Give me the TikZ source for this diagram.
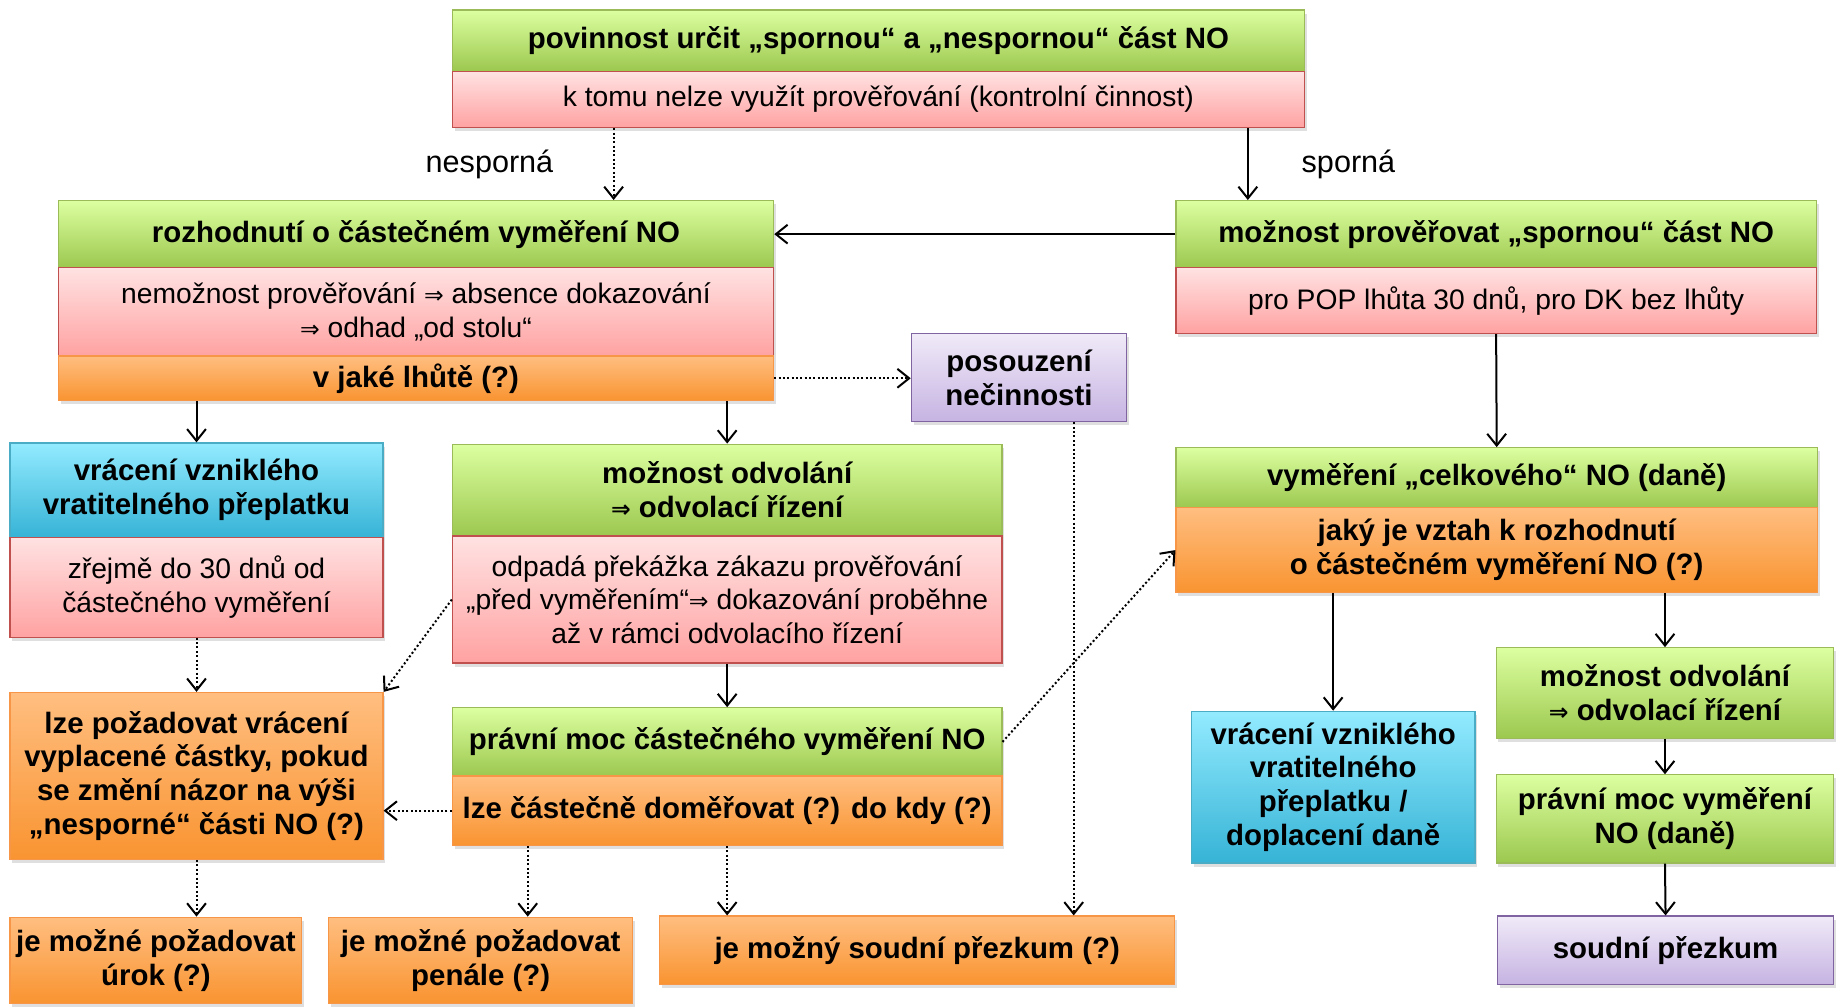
\documentclass[tikz,border=0pt]{standalone}
\usepackage{fontspec}
\setmainfont{Liberation Sans}
\newfontfamily\sipkafont{DejaVu Sans}
\newcommand{\impl}{{\sipkafont\fontsize{10}{14.3}\selectfont ⇒}}
\usetikzlibrary{arrows.meta,shadows}
\definecolor{zelenaH}{HTML}{DCFFA0}
\definecolor{zelenaD}{HTML}{9CC84F}
\definecolor{zelenaR}{HTML}{9BBB59}
\definecolor{cervenaH}{HTML}{FFE2E2}
\definecolor{cervenaD}{HTML}{FFA2A2}
\definecolor{cervenaR}{HTML}{C0504D}
\definecolor{oranzH}{HTML}{FFBE80}
\definecolor{oranzD}{HTML}{F99431}
\definecolor{oranzR}{HTML}{F79646}
\definecolor{modraH}{HTML}{93EBFF}
\definecolor{modraD}{HTML}{36B3D6}
\definecolor{modraR}{HTML}{4BACC6}
\definecolor{fialH}{HTML}{F0EAF8}
\definecolor{fialD}{HTML}{C6B3E2}
\definecolor{fialR}{HTML}{8064A2}
\begin{document}
\begin{tikzpicture}[x=0.5pt,y=-0.5pt,
 font=\fontsize{12}{14.3}\selectfont,
 box/.style={anchor=north west,inner sep=0pt,align=center,line width=0.5pt,
  drop shadow={shadow xshift=1pt,shadow yshift=-1.5pt,opacity=0.25}},
 zelena/.style={box,draw=zelenaR,top color=zelenaH,bottom color=zelenaD,font=\fontsize{12.5}{14.4}\selectfont\bfseries},
 cervena/.style={box,draw=cervenaR,top color=cervenaH,bottom color=cervenaD},
 oranz/.style={box,draw=oranzR,top color=oranzH,bottom color=oranzD,font=\fontsize{12.5}{14.4}\selectfont\bfseries},
 modra/.style={box,draw=modraR,top color=modraH,bottom color=modraD,font=\fontsize{12.5}{14.4}\selectfont\bfseries},
 fial/.style={box,draw=fialR,top color=fialH,bottom color=fialD,font=\fontsize{12.5}{14.4}\selectfont\bfseries},
 sipka/.style={line width=0.85pt,-{Straight Barb[length=5pt,width=8pt]}},
 tecky/.style={sipka,densely dotted}]
\useasboundingbox (0,0) rectangle (1568,855);
% horni blok
\node [zelena,minimum width=362pt,minimum height=26pt] (povinnost) at (384,8) {povinnost určit „spornou“ a „nespornou“ část NO};
\node [cervena,minimum width=362pt,minimum height=24pt] (kontrola) at (384,60) {k tomu nelze využít prověřování (kontrolní činnost)};
\node [font=\fontsize{13}{15}\selectfont] (nesporna) at (416,140) {nesporná};
\node [font=\fontsize{13}{15}\selectfont] (sporna) at (1146,140) {sporná};
% nesporna cast
\node [zelena,minimum width=304pt,minimum height=28.5pt] (rozhodnuti) at (49,170) {rozhodnutí o částečném vyměření NO};
\node [cervena,minimum width=304pt,minimum height=37.5pt] (nemoznost) at (49,227) {nemožnost prověřování \impl{} absence dokazování\\\impl{} odhad „od stolu“};
\node [oranz,minimum width=304pt,minimum height=19pt] (lhuta) at (49,302) {v jaké lhůtě (?)};
\node [fial,minimum width=91.5pt,minimum height=37.5pt] (necinnost) at (774,283) {posouzení\\nečinnosti};
\node [modra,minimum width=158.5pt,minimum height=40pt] (vraceni) at (8,376) {vrácení vzniklého\\vratitelného přeplatku};
\node [cervena,minimum width=158.5pt,minimum height=42.5pt] (zrejme) at (8,456) {zřejmě do 30 dnů od\\částečného vyměření};
\node [zelena,minimum width=233.5pt,minimum height=39pt] (odvolani) at (384,377) {možnost odvolání\\{\bfseries\impl} odvolací řízení};
\node [cervena,minimum width=233.5pt,minimum height=54pt] (prekazka) at (384,455) {odpadá překážka zákazu prověřování\\„před vyměřením“\impl{} dokazování proběhne\\až v rámci odvolacího řízení};
\node [zelena,minimum width=233.5pt,minimum height=29pt] (pravnimoc) at (384,601) {právní moc částečného vyměření NO};
\node [oranz,minimum width=233.5pt,minimum height=29.5pt] (domerovat) at (384,659) {lze částečně doměřovat (?) do kdy (?)};
\node [oranz,minimum width=158.5pt,minimum height=71pt] (vyplacena) at (8,588) {lze požadovat vrácení\\vyplacené částky, pokud\\se změní názor na výši\\„nesporné“ části NO (?)};
\node [oranz,minimum width=124pt,minimum height=36.5pt] (urok) at (8,779) {je možné požadovat\\úrok (?)};
\node [oranz,minimum width=129pt,minimum height=36.5pt] (penale) at (279,779) {je možné požadovat\\penále (?)};
\node [oranz,minimum width=219pt,minimum height=29pt] (prezkum) at (560,778) {je možný soudní přezkum (?)};
% sporna cast
\node [zelena,minimum width=272pt,minimum height=28.5pt] (proverovat) at (999,170) {možnost prověřovat „spornou“ část NO};
\node [cervena,minimum width=272pt,minimum height=28pt] (popdk) at (999,227) {pro POP lhůta 30 dnů, pro DK bez lhůty};
\node [zelena,minimum width=272.5pt,minimum height=25.5pt] (celkove) at (999,380) {vyměření „celkového“ NO (daně)};
\node [oranz,minimum width=272.5pt,minimum height=36pt] (vztah) at (999,431) {jaký je vztah k rozhodnutí\\o částečném vyměření NO (?)};
\node [modra,minimum width=120.5pt,minimum height=64.5pt] (doplaceni) at (1012,604) {vrácení vzniklého\\vratitelného\\přeplatku /\\doplacení daně};
\node [zelena,minimum width=143.5pt,minimum height=38.5pt] (odvolaniB) at (1271,550) {možnost odvolání\\{\bfseries\impl} odvolací řízení};
\node [zelena,minimum width=143.5pt,minimum height=37.5pt] (pravnimocB) at (1271,658) {právní moc vyměření\\NO (daně)};
\node [fial,minimum width=143pt,minimum height=29pt] (soudni) at (1272,778) {soudní přezkum};
% sipky
\draw [tecky] ([xshift=-112.5pt]kontrola.south) -- ([xshift=-112.5pt]kontrola.south |- rozhodnuti.north);
\draw [sipka] ([xshift=157pt]kontrola.south) -- ([xshift=157pt]kontrola.south |- proverovat.north);
\draw [sipka] (proverovat.west) -- (proverovat.west -| rozhodnuti.east);
\draw [tecky] (lhuta.east) -- (lhuta.east -| necinnost.west);
\draw [sipka] (vraceni.north |- lhuta.south) -- (vraceni.north);
\draw [sipka] (odvolani.north |- lhuta.south) -- (odvolani.north);
\draw [tecky] (zrejme.south) -- (vyplacena.north);
\draw [sipka] (prekazka.south) -- (pravnimoc.north);
\draw [tecky] (prekazka.west) -- (vyplacena.north east);
\draw [tecky] (domerovat.west) -- (domerovat.west -| vyplacena.east);
\draw [tecky] (vyplacena.south) -- (vyplacena.south |- urok.north);
\draw [tecky] ([xshift=-84.75pt]domerovat.south) -- ([xshift=-84.75pt]domerovat.south |- penale.north);
\draw [tecky] (domerovat.south) -- (domerovat.south |- prezkum.north);
\draw [tecky] ([xshift=23.25pt]necinnost.south) -- ([xshift=23.25pt]necinnost.south |- prezkum.north);
\draw [tecky] (pravnimoc.east) -- (vztah.west);
\draw [sipka] (popdk.south) -- (celkove.north);
\draw [sipka] (doplaceni.north |- vztah.south) -- (doplaceni.north);
\draw [sipka] (odvolaniB.north |- vztah.south) -- (odvolaniB.north);
\draw [sipka] (odvolaniB.south) -- (pravnimocB.north);
\draw [sipka] (pravnimocB.south) -- (soudni.north);
\end{tikzpicture}
\end{document}
